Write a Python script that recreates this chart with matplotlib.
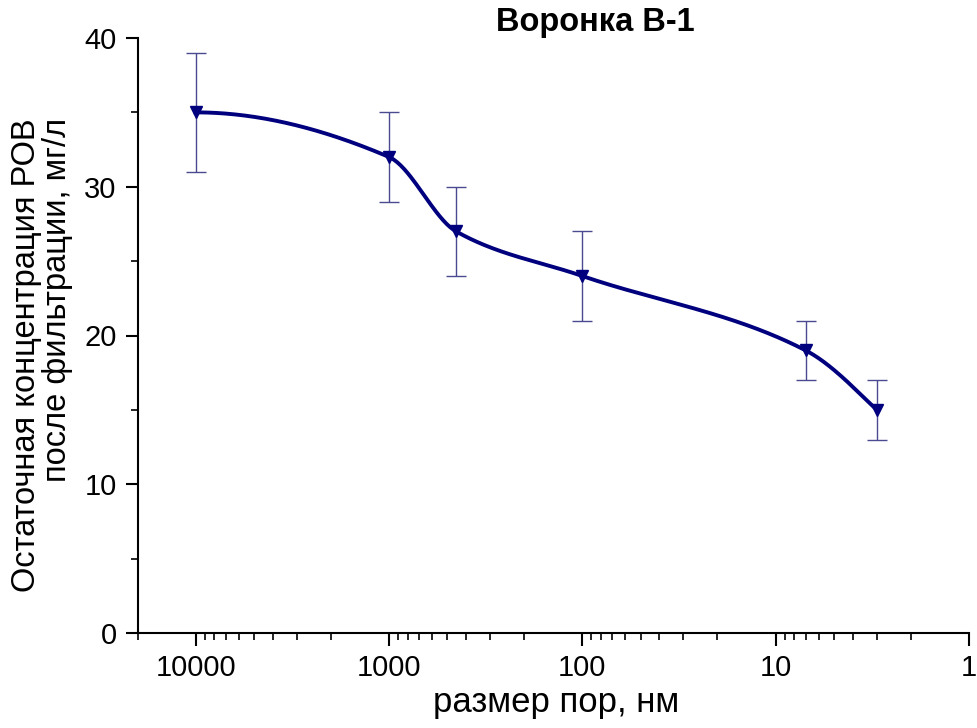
import numpy as np
import matplotlib
matplotlib.use("Agg")
import matplotlib.pyplot as plt
from matplotlib.ticker import LogLocator, FixedLocator, FuncFormatter

plt.rcParams['font.family'] = ['Liberation Sans', 'DejaVu Sans']

# data
pore_size = [10000, 1000, 450, 100, 7, 3]      # nm
conc = [35, 32, 27, 24, 19, 15]                # mg/l
conc_err = [4, 3, 3, 3, 2, 2]

navy = '#00007f'


def pchip(x, y, n=400):
    # monotone cubic (Fritsch-Carlson) through the points, only for the smooth line
    x = np.asarray(x, float)
    y = np.asarray(y, float)
    order = np.argsort(x)
    x, y = x[order], y[order]
    h = np.diff(x)
    delta = np.diff(y) / h
    k = len(x)
    d = np.zeros(k)
    for i in range(1, k - 1):
        if delta[i - 1] * delta[i] > 0:
            w1 = 2 * h[i] + h[i - 1]
            w2 = h[i] + 2 * h[i - 1]
            d[i] = (w1 + w2) / (w1 / delta[i - 1] + w2 / delta[i])
    # end points
    for i0, j, s in [(0, 0, 1), (k - 1, k - 2, -1)]:
        jj = j + s if 0 <= j + s < k - 1 else j
        dd = ((2 * h[j] + h[jj]) * delta[j] - h[j] * delta[jj]) / (h[j] + h[jj])
        if np.sign(dd) != np.sign(delta[j]):
            dd = 0
        elif np.sign(delta[j]) != np.sign(delta[jj]) and abs(dd) > abs(3 * delta[j]):
            dd = 3 * delta[j]
        d[i0] = dd
    xs = np.linspace(x[0], x[-1], n)
    idx = np.clip(np.searchsorted(x, xs) - 1, 0, k - 2)
    t = (xs - x[idx]) / h[idx]
    h00 = 2 * t ** 3 - 3 * t ** 2 + 1
    h10 = t ** 3 - 2 * t ** 2 + t
    h01 = -2 * t ** 3 + 3 * t ** 2
    h11 = t ** 3 - t ** 2
    ys = h00 * y[idx] + h10 * h[idx] * d[idx] + h01 * y[idx + 1] + h11 * h[idx] * d[idx + 1]
    return xs, ys


lx, ly = pchip(np.log10(pore_size), conc)

fig = plt.figure(figsize=(9.78, 7.28), dpi=100)
ax = fig.add_axes([137.5 / 978, 1 - 633 / 728, (969 - 137.5) / 978, (633 - 38) / 728])

ax.plot(10 ** lx, ly, color=navy, lw=2.8, zorder=3)
ax.errorbar(pore_size, conc, yerr=conc_err, fmt='none', ecolor='#4a4a90',
            elinewidth=1, capsize=7, capthick=1, zorder=2)
ax.plot(pore_size, conc, 'v', color=navy, ms=9, zorder=4)

ax.set_xscale('log')
ax.set_xlim(20000, 1)
ax.set_ylim(0, 40)

ax.xaxis.set_major_locator(FixedLocator([10000, 1000, 100, 10, 1]))
ax.xaxis.set_major_formatter(FuncFormatter(lambda v, p: f'{v:g}'))
ax.xaxis.set_minor_locator(LogLocator(base=10, subs=np.arange(2, 10), numticks=20))
ax.xaxis.set_minor_formatter(FuncFormatter(lambda v, p: ''))
ax.set_yticks([0, 10, 20, 30, 40])
ax.set_yticks([5, 15, 25, 35], minor=True)

for s in ['top', 'right']:
    ax.spines[s].set_visible(False)
for s in ['left', 'bottom']:
    ax.spines[s].set_linewidth(1.5)

ax.tick_params(which='major', direction='out', length=9, width=1.5, labelsize=21, pad=6)
ax.tick_params(which='minor', direction='out', length=5, width=1.2)

fig.text(556 / 978, 1 - 712 / 728, 'размер пор, нм', fontsize=25,
         ha='center', va='baseline')
fig.text(42 / 978, 1 - 118 / 728, 'Остаточная концентрация РОВ\nпосле фильтрации, мг/л',
         fontsize=23.5, rotation=90, ha='center', va='top', multialignment='right',
         linespacing=1.0)
fig.text(595 / 978, 1 - 22 / 728, 'Воронка В-1', fontsize=23.5, fontweight='bold',
         ha='center', va='center')

fig.savefig('out.png', dpi=100)
